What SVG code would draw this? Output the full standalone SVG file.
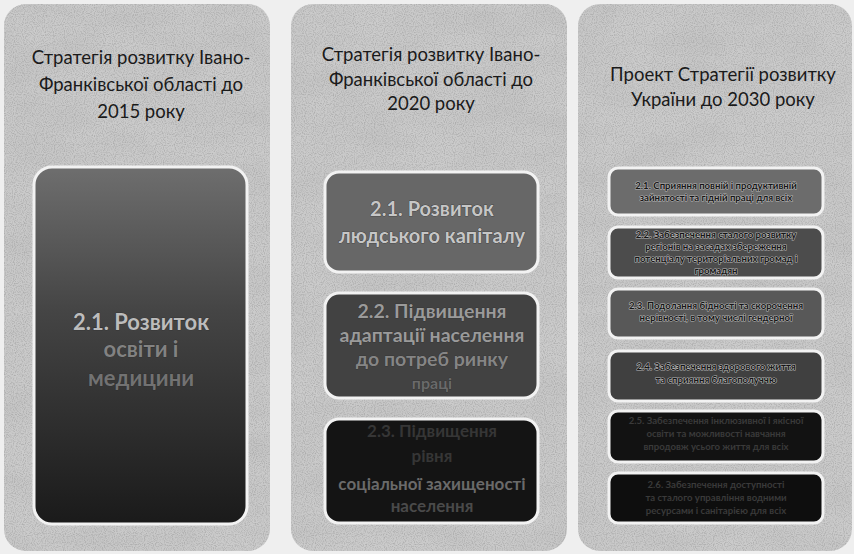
<svg xmlns="http://www.w3.org/2000/svg" width="854" height="554" viewBox="0 0 854 554">
<defs>
<filter id="grain" x="0" y="0" width="100%" height="100%">
<feTurbulence type="fractalNoise" baseFrequency="0.015 0.03" numOctaves="4" seed="7" result="n"/>
<feColorMatrix in="n" type="matrix" values="0 0 0 0 0.5  0 0 0 0 0.5  0 0 0 0 0.5  1.6 0 0 0 -0.55" result="m"/>
<feComposite in="m" in2="SourceGraphic" operator="in"/>
</filter>
<filter id="speck" x="0" y="0" width="100%" height="100%">
<feTurbulence type="fractalNoise" baseFrequency="0.9" numOctaves="1" seed="3" result="n"/>
<feColorMatrix in="n" type="matrix" values="0 0 0 0 0.3  0 0 0 0 0.3  0 0 0 0 0.3  3 0 0 0 -1.3" result="m"/>
<feComposite in="m" in2="SourceGraphic" operator="in"/>
</filter>
<linearGradient id="g1" x1="0" y1="0" x2="0" y2="1">
<stop offset="0" stop-color="#6e6e6e"/>
<stop offset="0.4" stop-color="#454545"/>
<stop offset="1" stop-color="#1a1a1a"/>
</linearGradient>
<style>
.panel{fill:#cbcbcb}
.title{font-family:Lato,"Open Sans","Liberation Sans",sans-serif;font-size:18.5px;fill:#1a1a1a;text-anchor:middle}
.box{stroke:#f2f2f2;stroke-width:3}
.big{font-family:Lato,"Open Sans","Liberation Sans",sans-serif;font-weight:bold;text-anchor:middle;stroke:#2a2a2a;stroke-width:0.6;paint-order:stroke}
.small{font-family:Lato,"Open Sans","Liberation Sans",sans-serif;font-weight:bold;font-size:9.6px;text-anchor:middle;fill:#161616;stroke:#b5b5b5;stroke-width:1.1;paint-order:stroke}
.faint{font-family:Lato,"Open Sans","Liberation Sans",sans-serif;font-weight:bold;font-size:9.6px;text-anchor:middle;fill:#3a3a3a}
</style>
</defs>
<rect x="0" y="0" width="854" height="554" fill="#efefef"/>
<g id="panels">
<rect class="panel" x="4" y="4" width="266" height="547" rx="22"/>
<rect class="panel" x="291" y="4" width="276" height="547" rx="22"/>
<rect class="panel" x="578" y="4" width="274" height="547" rx="22"/>
<g filter="url(#grain)" opacity="0.55">
<rect x="4" y="4" width="266" height="547" rx="22" fill="#fff"/>
<rect x="291" y="4" width="276" height="547" rx="22" fill="#fff"/>
<rect x="578" y="4" width="274" height="547" rx="22" fill="#fff"/>
</g>
<g filter="url(#speck)" opacity="0.5">
<rect x="4" y="4" width="266" height="547" rx="22" fill="#fff"/>
<rect x="291" y="4" width="276" height="547" rx="22" fill="#fff"/>
<rect x="578" y="4" width="274" height="547" rx="22" fill="#fff"/>
</g>
</g>
<g id="col1">
<g id="title1">
<text class="title" x="141" y="64">Стратегія розвитку Івано-</text>
<text class="title" x="141" y="91">Франківської області до</text>
<text class="title" x="141" y="118">2015 року</text>
</g>
<g id="c1-box1">
<rect class="box" x="34" y="167" width="213" height="357" rx="18" fill="url(#g1)"/>
<text class="big" x="141" y="330" font-size="22" style="fill:#bcbcbc">2.1. Розвиток</text>
<text class="big" x="141" y="357" font-size="22" style="fill:#828282">освіти і</text>
<text class="big" x="141" y="386" font-size="22" style="fill:#727272">медицини</text>
</g>
</g>
<g id="col2">
<g id="title2">
<text class="title" x="431" y="61">Стратегія розвитку Івано-</text>
<text class="title" x="431" y="86">Франківської області до</text>
<text class="title" x="431" y="110">2020 року</text>
</g>
<g id="c2-box1">
<rect class="box" x="325" y="172" width="213" height="100" rx="14" fill="#676767"/>
<text class="big" x="432" y="216" font-size="20" style="fill:#c6c6c6">2.1. Розвиток</text>
<text class="big" x="432" y="243" font-size="20" style="fill:#c6c6c6">людського капіталу</text>
</g>
<g id="c2-box2">
<rect class="box" x="325" y="293" width="213" height="105" rx="14" fill="#424242"/>
<text class="big" x="432" y="318" font-size="19.5" style="fill:#9a9a9a">2.2. Підвищення</text>
<text class="big" x="432" y="342" font-size="19.5" style="fill:#9a9a9a">адаптації населення</text>
<text class="big" x="432" y="366" font-size="19.5" style="fill:#858585">до потреб ринку</text>
<text class="big" x="432" y="389" font-size="16" style="fill:#6a6a6a">праці</text>
</g>
<g id="c2-box3">
<rect class="box" x="325" y="419" width="213" height="104" rx="14" fill="#141414"/>
<text class="big" x="432" y="437" font-size="17" style="fill:#363636;stroke:none">2.3. Підвищення</text>
<text class="big" x="432" y="462" font-size="17" style="fill:#363636;stroke:none">рівня</text>
<text class="big" x="432" y="490" font-size="17" style="fill:#6a6a6a;stroke:none">соціальної захищеності</text>
<text class="big" x="432" y="512" font-size="17" style="fill:#4a4a4a;stroke:none">населення</text>
</g>
</g>
<g id="col3">
<g id="title3">
<text class="title" x="723" y="81">Проект Стратегії розвитку</text>
<text class="title" x="723" y="106">України до 2030 року</text>
</g>
<g id="c3-box1">
<rect class="box" x="609" y="168" width="214" height="47" rx="9" fill="#6c6c6c"/>
<text class="small" x="716" y="189">2.1. Сприяння повній і продуктивній</text>
<text class="small" x="716" y="201">зайнятості та гідній праці для всіх</text>
</g>
<g id="c3-box2">
<rect class="box" x="609" y="227" width="214" height="51" rx="9" fill="#4c4c4c"/>
<text class="small" x="716" y="238">2.2. Забезпечення сталого розвитку</text>
<text class="small" x="716" y="250">регіонів на засадах збереження</text>
<text class="small" x="716" y="262">потенціалу територіальних громад і</text>
<text class="small" x="716" y="274">громадян</text>
</g>
<g id="c3-box3">
<rect class="box" x="609" y="289" width="214" height="49" rx="9" fill="#585858"/>
<text class="small" x="716" y="309">2.3. Подолання бідності та скорочення</text>
<text class="small" x="716" y="321">нерівності, в тому числі гендерної</text>
</g>
<g id="c3-box4">
<rect class="box" x="609" y="351" width="214" height="50" rx="9" fill="#404040"/>
<text class="small" x="716" y="370">2.4. Забезпечення здорового життя</text>
<text class="small" x="716" y="383">та сприяння благополуччю</text>
</g>
<g id="c3-box5">
<rect class="box" x="609" y="411" width="214" height="51" rx="9" fill="#121212"/>
<text class="faint" x="716" y="424">2.5. Забезпечення інклюзивної і якісної</text>
<text class="faint" x="716" y="437">освіти та можливості навчання</text>
<text class="faint" x="716" y="450">впродовж усього життя для всіх</text>
</g>
<g id="c3-box6">
<rect class="box" x="609" y="473" width="214" height="50" rx="9" fill="#0e0e0e"/>
<text class="faint" x="716" y="488">2.6. Забезпечення доступності</text>
<text class="faint" x="716" y="501">та сталого управління водними</text>
<text class="faint" x="716" y="514">ресурсами і санітарією для всіх</text>
</g>
</g>
<g id="connectors"/>
</svg>
